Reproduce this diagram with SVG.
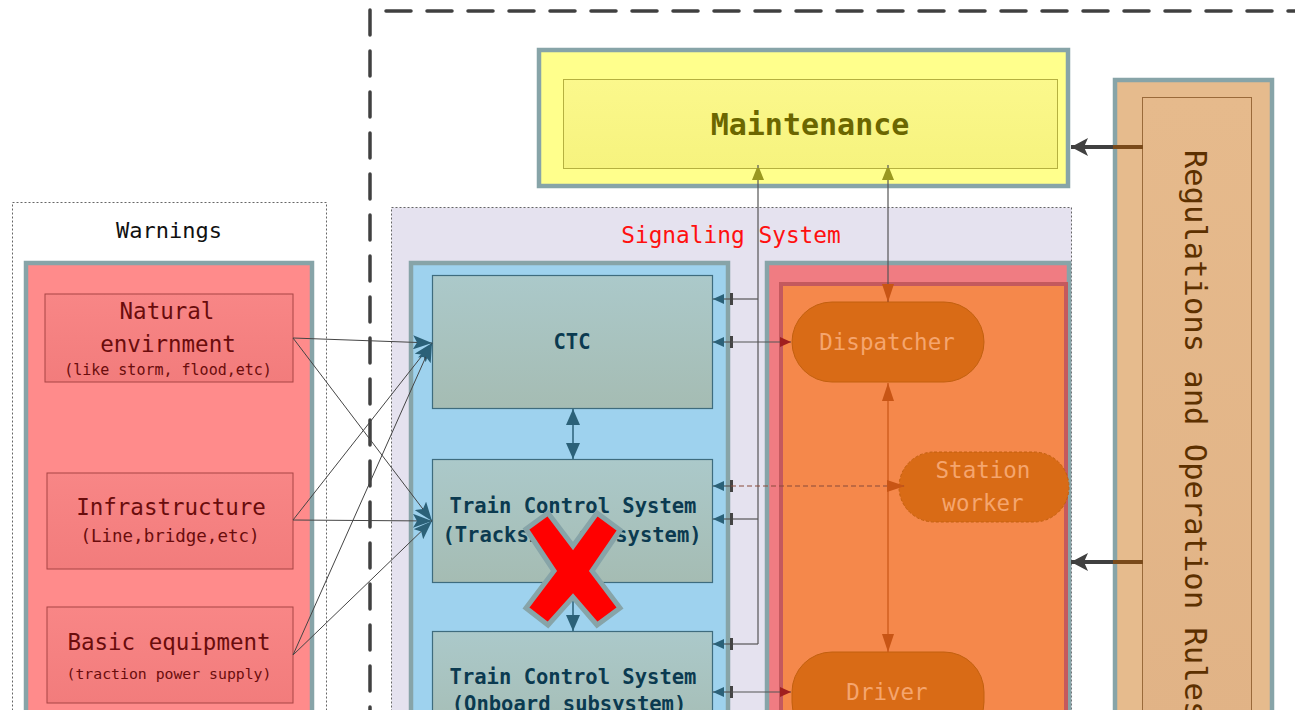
<svg xmlns="http://www.w3.org/2000/svg" width="1295" height="710" viewBox="0 0 1295 710">
<style>
text{font-family:'DejaVu Sans Mono','Liberation Mono',monospace;dominant-baseline:central;text-anchor:middle}
.frame{stroke:#87a4a8;stroke-width:4.5}
.comp{fill:url(#gComp);stroke:#3e6c7e;stroke-width:1.2}
.ctext{font-weight:bold;fill:#0b3a50;font-size:20.5px}
.wbox{fill:url(#gWarn);stroke:#a84444;stroke-width:1}
.wt{fill:#6a0c0c;font-size:22.5px}
.ws{fill:#6a0c0c}
.pill{fill:#d96b16;stroke:#c2600f;stroke-width:1}
.pt{fill:#f5a56e;font-size:22.5px}
.wl{fill:none;stroke:#454545;stroke-width:1}
.gl{fill:none;stroke:#555;stroke-width:1.2}
</style>
<defs>
<linearGradient id="gComp" x1="0" y1="0" x2="0" y2="1"><stop offset="0" stop-color="#abc9ca"/><stop offset="1" stop-color="#a5bcb3"/></linearGradient>
<linearGradient id="gWarn" x1="0" y1="0" x2="0" y2="1"><stop offset="0" stop-color="#f88686"/><stop offset="1" stop-color="#f27c7c"/></linearGradient>
<linearGradient id="gMaint" x1="0" y1="0" x2="0" y2="1"><stop offset="0" stop-color="#fbf88c"/><stop offset="1" stop-color="#f6f37e"/></linearGradient>
<linearGradient id="gReg" x1="0" y1="0" x2="0" y2="1"><stop offset="0" stop-color="#e6ba8c"/><stop offset="1" stop-color="#e1b386"/></linearGradient>
<marker id="aBig" markerUnits="userSpaceOnUse" markerWidth="20" markerHeight="14" refX="19" refY="7" orient="auto-start-reverse"><path d="M0,0 L19,7 L0,14 L4,7 z" fill="#2b6178"/></marker>
<marker id="aMid" markerUnits="userSpaceOnUse" markerWidth="16" markerHeight="16" refX="16" refY="7" orient="auto-start-reverse"><path d="M0,0 L16,7 L0,14 z" fill="#2b6178"/></marker>
<marker id="aSm" markerUnits="userSpaceOnUse" markerWidth="12" markerHeight="10" refX="11" refY="5" orient="auto-start-reverse"><path d="M0,0 L11,5 L0,10 z" fill="#2b6178"/></marker>
<marker id="tick" markerUnits="userSpaceOnUse" markerWidth="4" markerHeight="12" refX="2" refY="6" orient="auto"><rect x="0" y="0" width="3" height="12" fill="#444"/></marker>
<marker id="aRed" markerUnits="userSpaceOnUse" markerWidth="12" markerHeight="10" refX="11" refY="5" orient="auto"><path d="M0,0 L11,5 L0,10 z" fill="#a01f1f"/></marker>
<marker id="aOr" markerUnits="userSpaceOnUse" markerWidth="18" markerHeight="12" refX="18" refY="6" orient="auto-start-reverse"><path d="M0,0 L18,6 L0,12 z" fill="#c85515"/></marker>
<marker id="aOl" markerUnits="userSpaceOnUse" markerWidth="12" markerHeight="16" refX="15" refY="6" orient="auto"><path d="M0,0 L15,6 L0,12 z" fill="#9a9820"/></marker>
<marker id="aDk" markerUnits="userSpaceOnUse" markerWidth="18" markerHeight="18" refX="17" refY="9" orient="auto"><path d="M0,0 L17,9 L0,18 L4,9 z" fill="#404040"/></marker>
</defs>
<rect width="1295" height="710" fill="#ffffff"/>

<!-- outer dashed frame -->
<path d="M370,10 V710 M386,11 H1295" fill="none" stroke="#404040" stroke-width="3.5" stroke-linecap="round" stroke-dasharray="25,16"/>

<g id="warnings">
<rect x="12.5" y="202.5" width="314" height="520" fill="#fff" stroke="#666" stroke-width="1" stroke-dasharray="2,2"/>
<text x="169" y="230" font-size="22" fill="#111">Warnings</text>
<rect x="26" y="263" width="286" height="460" fill="#ff8b8b" class="frame"/>
</g>
<g id="natural">
<rect x="45" y="294" width="248" height="88" class="wbox"/>
<text x="167" y="311" class="wt">Natural</text>
<text x="168" y="344" class="wt">envirnment</text>
<text x="168" y="370" class="ws" font-size="15">(like storm, flood,etc)</text>
</g>
<g id="infrastructure">
<rect x="47" y="473" width="246" height="96" class="wbox"/>
<text x="171" y="507" class="wt">Infrastructure</text>
<text x="170" y="536" class="ws" font-size="17.5">(Line,bridge,etc)</text>
</g>
<g id="basic">
<rect x="47" y="607" width="246" height="96" class="wbox"/>
<text x="169" y="642" class="wt">Basic equipment</text>
<text x="169" y="673" class="ws" font-size="14.8">(traction power supply)</text>
</g>

<g id="signaling">
<rect x="391.5" y="207.5" width="680" height="520" fill="#e5e2ef" stroke="#666" stroke-width="1" stroke-dasharray="2,2"/>
<text x="731" y="235" font-size="22.8" fill="#ff1010">Signaling System</text>
<rect x="411" y="263" width="317" height="460" fill="#9ed2ee" class="frame"/>
</g>
<g id="ctc">
<rect x="432.5" y="275.5" width="280" height="133" class="comp"/>
<text x="572" y="342" class="ctext">CTC</text>
</g>
<g id="tcs-trackside">
<rect x="432.5" y="459.5" width="280" height="123" class="comp"/>
<text x="573" y="506" class="ctext">Train Control System</text>
<text x="572" y="535" class="ctext">(Trackside subsystem)</text>
</g>
<g id="tcs-onboard">
<rect x="432.5" y="631.5" width="280" height="110" class="comp"/>
<text x="573" y="677" class="ctext">Train Control System</text>
<text x="569" y="704" class="ctext">(Onboard subsystem)</text>
</g>

<g id="humans">
<rect x="767" y="263" width="302" height="460" fill="#f07c82" class="frame"/>
<rect x="781" y="284" width="285" height="440" fill="#f5884b" stroke="#c4595e" stroke-width="4"/>
</g>
<g id="dispatcher">
<rect x="792" y="302" width="192" height="80" rx="40" class="pill"/>
<text x="887" y="342" class="pt">Dispatcher</text>
</g>
<g id="station-worker">
<rect x="899" y="452" width="170" height="70" rx="35" class="pill" stroke-dasharray="3,2"/>
<text x="983" y="470" class="pt">Station</text>
<text x="983" y="503" class="pt">worker</text>
</g>
<g id="driver">
<rect x="792" y="652" width="192" height="90" rx="40" class="pill"/>
<text x="887" y="692" class="pt">Driver</text>
</g>

<g id="maintenance">
<rect x="539" y="50" width="529" height="136" fill="#ffff8c" class="frame"/>
<rect x="563.5" y="79.5" width="494" height="89" fill="url(#gMaint)" stroke="#b5b040" stroke-width="1"/>
<text x="810" y="124" font-size="30" font-weight="bold" fill="#6b6600">Maintenance</text>
</g>

<g id="regulations">
<rect x="1115" y="80" width="157" height="650" fill="#e6bb8d" class="frame"/>
<rect x="1142.5" y="97.5" width="109" height="630" fill="url(#gReg)" stroke="#9a6a3a" stroke-width="1"/>
<text transform="translate(1195,150) rotate(90)" x="0" y="0" font-size="30.5" fill="#5c3000" style="text-anchor:start">Regulations and Operation Rules</text>
</g>

<g id="connectors">
<line x1="293" y1="338" x2="432" y2="343" class="wl" marker-end="url(#aBig)"/>
<line x1="293" y1="338" x2="432" y2="521" class="wl" marker-end="url(#aBig)"/>
<line x1="293" y1="520" x2="432" y2="343" class="wl" marker-end="url(#aBig)"/>
<line x1="293" y1="520" x2="432" y2="521" class="wl" marker-end="url(#aBig)"/>
<line x1="293" y1="655" x2="432" y2="343" class="wl" marker-end="url(#aBig)"/>
<line x1="293" y1="655" x2="432" y2="521" class="wl" marker-end="url(#aBig)"/>
<line x1="573" y1="409" x2="573" y2="459" stroke="#2b6178" stroke-width="1.5" marker-start="url(#aMid)" marker-end="url(#aMid)"/>
<line x1="573" y1="583" x2="573" y2="631" stroke="#2b6178" stroke-width="1.5" marker-start="url(#aMid)" marker-end="url(#aMid)"/>
<path d="M758,644 V165" class="gl" marker-end="url(#aOl)"/>
<path d="M758,299 H731" class="gl"/>
<path d="M758,519 H731" class="gl"/>
<path d="M758,644 H731" class="gl"/>
<line x1="731" y1="299" x2="713" y2="299" class="gl" marker-start="url(#tick)" marker-end="url(#aSm)"/>
<line x1="731" y1="519" x2="713" y2="519" class="gl" marker-start="url(#tick)" marker-end="url(#aSm)"/>
<line x1="731" y1="644" x2="713" y2="644" class="gl" marker-start="url(#tick)" marker-end="url(#aSm)"/>
<path d="M888,302 V165" class="gl" marker-end="url(#aOl)"/>
<path d="M888,284 V302" stroke="#c85515" stroke-width="1.2" marker-end="url(#aOr)"/>
<line x1="731" y1="342" x2="713" y2="342" class="gl" marker-start="url(#tick)" marker-end="url(#aSm)"/>
<line x1="731" y1="342" x2="791" y2="342" stroke="#555" stroke-width="1.2" marker-end="url(#aRed)"/>
<line x1="731" y1="486" x2="713" y2="486" class="gl" marker-start="url(#tick)" marker-end="url(#aSm)"/>
<line x1="731" y1="486" x2="905" y2="486" stroke="#8a4a3a" stroke-width="1.2" stroke-dasharray="5,3" marker-end="url(#aOr)"/>
<line x1="731" y1="692" x2="713" y2="692" class="gl" marker-start="url(#tick)" marker-end="url(#aSm)"/>
<line x1="731" y1="692" x2="791" y2="692" stroke="#555" stroke-width="1.2" marker-end="url(#aRed)"/>
<line x1="888" y1="383" x2="888" y2="652" stroke="#c85515" stroke-width="1.2" marker-start="url(#aOr)" marker-end="url(#aOr)"/>
<line x1="1112" y1="147" x2="1143" y2="147" stroke="#7a4a1a" stroke-width="4"/>
<line x1="1113" y1="147" x2="1071" y2="147" stroke="#404040" stroke-width="4" marker-end="url(#aDk)"/>
<line x1="1112" y1="562" x2="1143" y2="562" stroke="#7a4a1a" stroke-width="4"/>
<line x1="1113" y1="562" x2="1071" y2="562" stroke="#404040" stroke-width="4" marker-end="url(#aDk)"/>
</g>

<g id="failure-x">
<polygon points="526,529 548,513 573,546 597,513 620,530 592,571 620,608 597,625 573,597 548,625 526,608 554,571" fill="#ff0000" stroke="#87a4a8" stroke-width="5" stroke-linejoin="miter"/>
</g>
</svg>
